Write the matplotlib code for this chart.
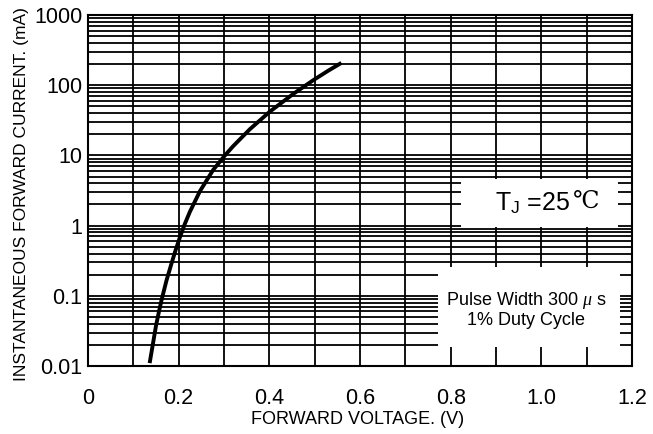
import numpy as np
import matplotlib
matplotlib.use("Agg")
import matplotlib.pyplot as plt
from matplotlib.patches import Rectangle

plt.rcParams["font.family"] = ["Liberation Sans", "DejaVu Sans"]
plt.rcParams["mathtext.fontset"] = "custom"
plt.rcParams["mathtext.rm"] = "Liberation Sans"
plt.rcParams["mathtext.it"] = "Liberation Serif:italic"

# forward characteristic
voltage = [0.136, 0.143, 0.150, 0.156, 0.162, 0.173, 0.184, 0.193, 0.203,
           0.213, 0.2245, 0.247, 0.276, 0.302, 0.320, 0.357, 0.401,
           0.4526, 0.497, 0.530, 0.559]
current = [0.011, 0.0203, 0.0374, 0.0574, 0.0857, 0.164, 0.286, 0.442, 0.69,
           1.035, 1.56, 3.1, 6.2, 10.0, 13.5, 23.6, 42,
           75, 118, 161, 208]

x_ticks = [0, 0.2, 0.4, 0.6, 0.8, 1.0, 1.2]
x_labels = ["0", "0.2", "0.4", "0.6", "0.8", "1.0", "1.2"]
y_ticks = [0.01, 0.1, 1, 10, 100, 1000]
y_labels = ["0.01", "0.1", "1", "10", "100", "1000"]

fig = plt.figure(figsize=(6.53, 4.34), dpi=100)
ax = fig.add_axes([88 / 653, 1 - 366 / 434, 544 / 653, 351 / 434])

ax.set_yscale("log")
ax.set_xlim(0, 1.2)
ax.set_ylim(0.01, 1000)

# grid: every 0.1 V, every log minor step
for v in np.arange(1, 12) / 10:
    ax.axvline(v, color="black", lw=1.3, zorder=1)
for dec in [0.01, 0.1, 1, 10, 100]:
    for m in range(1, 10):
        ax.axhline(dec * m, color="black", lw=1.3, zorder=1)

# white boxes behind the notes
ax.add_patch(Rectangle((0.823, 0.955), 1.169 - 0.823, 4.6 - 0.955,
                       facecolor="white", edgecolor="none", zorder=2))
ax.add_patch(Rectangle((0.772, 0.0187), 1.174 - 0.772, 0.257 - 0.0187,
                       facecolor="white", edgecolor="none", zorder=2))

ax.plot(voltage, current, color="black", lw=2.8, zorder=3,
        solid_capstyle="butt", solid_joinstyle="round")

ax.text(0.98, 2.1, r"T$_\mathregular{J}$ =25", fontsize=18,
        ha="center", va="center", zorder=4)
ax.text(1.098, 2.25, "\u2103", fontsize=17, family=["DejaVu Serif"],
        ha="center", va="center", zorder=4)
ax.text(0.967, 0.087, r"Pulse Width 300 $\mu$ s", fontsize=13,
        ha="center", va="center", zorder=4)
ax.text(0.967, 0.045, "1% Duty Cycle", fontsize=13,
        ha="center", va="center", zorder=4)

ax.set_xticks(x_ticks, x_labels)
ax.set_yticks(y_ticks, y_labels)
ax.minorticks_off()
ax.tick_params(axis="both", length=0, labelsize=15.5)
ax.tick_params(axis="x", pad=16)
ax.tick_params(axis="y", pad=4)
for sp in ax.spines.values():
    sp.set_linewidth(1.5)
    sp.set_zorder(5)

fig.text(358 / 653, 1 - 419 / 434, "FORWARD VOLTAGE. (V)", fontsize=13,
         ha="center", va="center")
fig.text(22 / 653, 1 - 381 / 434, "INSTANTANEOUS FORWARD CURRENT. (mA)",
         fontsize=12.5, rotation=90, ha="center", va="bottom")

fig.savefig("out.png", dpi=100)
